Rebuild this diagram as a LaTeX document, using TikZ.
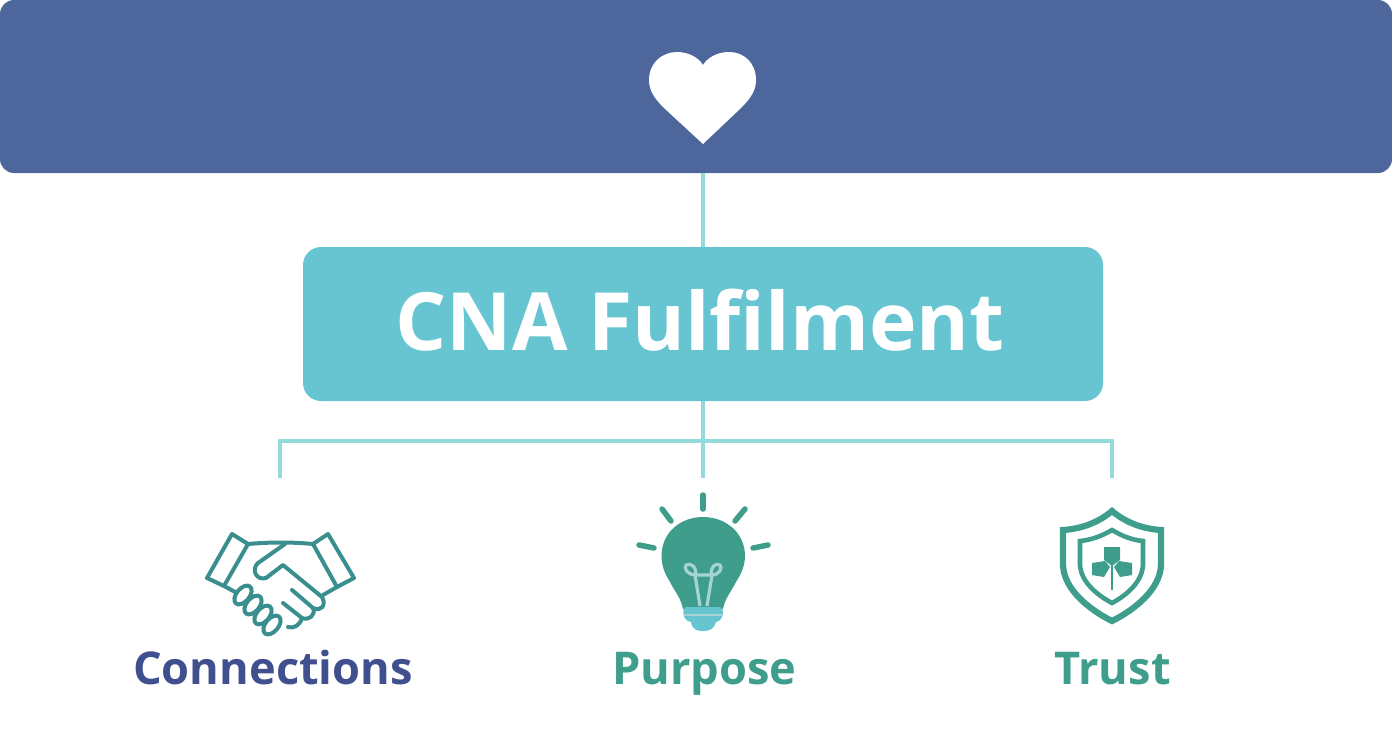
\documentclass[tikz,border=0pt]{standalone}
\usepackage{fontspec}
\setmainfont{Open Sans}
\usetikzlibrary{calc}
\definecolor{bannerblue}{HTML}{4D679C}
\definecolor{boxteal}{HTML}{67C5D2}
\definecolor{linkteal}{HTML}{94DADA}
\definecolor{icongreen}{HTML}{3F9D8C}
\definecolor{handteal}{HTML}{3A8F8E}
\definecolor{labelblue}{HTML}{40508F}
\definecolor{filament}{HTML}{A5D3D6}
\tikzset{
    link/.style={draw=linkteal, line width=3.4pt},
    caption/.style={anchor=base, font=\bfseries\fontsize{45.2}{45.2}\selectfont},
    handline/.style={draw=handteal, line width=4pt, line join=round, line cap=round},
    ray/.style={draw=icongreen, line width=5.5pt, line cap=round},
    shieldline/.style={draw=icongreen, line join=miter}
}

\begin{document}
\begin{tikzpicture}[x=1pt,y=-1pt]
    \useasboundingbox (0,0) rectangle (1392,752);
    \node[fill=bannerblue, rounded corners=14pt, minimum width=1392pt, minimum height=173pt, inner sep=0pt] at (696,86.5) (banner) {};
    \node[fill=boxteal, rounded corners=18pt, minimum width=800pt, minimum height=154pt, inner sep=0pt] at (703,324) (fulfilBox) {};
    \node[anchor=base, text=white, font=\bfseries\fontsize{80.4}{80.4}\selectfont] at (700,350) (fulfilText) {CNA Fulfilment};

    % links
    \coordinate (busMid) at (703,441);
    \coordinate (dropLeft) at (280,478);
    \coordinate (dropMid) at (703,478);
    \coordinate (dropRight) at (1112,478);
    \draw[link] (banner.south -| fulfilBox.north) -- (fulfilBox.north);
    \draw[link] (fulfilBox.south) -- (dropMid);
    \draw[link] (dropLeft) |- (busMid) -| (dropRight);

    % heart
    \fill[white] (703,144) -- (664,108) .. controls (655,99) and (649,91) .. (649,80)
        .. controls (649,63) and (662,52) .. (677,52)
        .. controls (688,52) and (698,57) .. (703,65)
        .. controls (708,57) and (718,52) .. (729,52)
        .. controls (744,52) and (756,63) .. (756,80)
        .. controls (756,91) and (750,99) .. (741,108) -- cycle;

    % handshake
    \draw[handline] (232,534) -- (248,544) -- (224,586) -- (207,578) -- cycle;
    \draw[handline] (328,534) -- (313,544) -- (337,587) -- (354,578) -- cycle;
    \draw[handline] (248,544) .. controls (270,542) and (292,542) .. (313,544);
    \draw[handline] (285,544) -- (258,563) .. controls (251,569) and (256,581) .. (266,578) -- (283,565)
        -- (322,597) .. controls (327,606) and (320,612) .. (313,608);
    \draw[handline] (323,595) -- (337,587);
    \draw[handline] (292,590) -- (313,608) .. controls (316,615) and (309,621) .. (302,618) -- (283,603);
    \draw[handline] (302,618) .. controls (300,625) and (294,629) .. (288,627);
    \draw[handline] (224,586) -- (237,593);
    \foreach \fx/\fy in {243/595,253/605,263/615,272/625}
        \draw[handline, fill=white] (\fx,\fy) ellipse [x radius=11pt, y radius=6.5pt, rotate=50];

    % bulb
    \fill[icongreen] (683,609) .. controls (681,598) and (675,592) .. (670,582)
        .. controls (665,574) and (661.5,566) .. (661.5,556)
        .. controls (661.5,533) and (680,517) .. (703,517)
        .. controls (726,517) and (745,533) .. (745,556)
        .. controls (745,566) and (741,574) .. (736,582)
        .. controls (731,592) and (725,598) .. (723,609) -- cycle;
    \foreach \ax/\ay/\bx/\by in {703/495/703/509,662/509/671/521,745/509/735/521,639/545/654/548,768/545/753/548}
        \draw[ray] (\ax,\ay) -- (\bx,\by);
    \draw[draw=filament, line width=3.2pt, line join=round] (700,606) -- (695,575)
        .. controls (688,575) and (683,568) .. (686,565) .. controls (691,562) and (698,568) .. (695,575) -- (712,575)
        .. controls (709,568) and (716,562) .. (720,565) .. controls (723,568) and (719,575) .. (712,575) -- (707,606);
    \fill[boxteal] (687,607) -- (719,607) .. controls (725,607) and (724,621) .. (716,622)
        .. controls (714,630) and (708,631) .. (703,631) .. controls (698,631) and (692,630) .. (691,622)
        .. controls (682,621) and (681,607) .. (687,607) -- cycle;
    \draw[filament, line width=1.6pt] (684,615) -- (722,615);

    % shield
    \draw[shieldline, line width=6.2pt] (1112,511) .. controls (1098,523) and (1080,529) .. (1063,530)
        -- (1063,565) .. controls (1064,590) and (1090,610) .. (1112,621)
        .. controls (1134,610) and (1160,590) .. (1161,565) -- (1161,530)
        .. controls (1144,529) and (1126,523) .. (1112,511) -- cycle;
    \draw[shieldline, line width=4.6pt] (1112,530) .. controls (1102,536) and (1091,540) .. (1080,541)
        -- (1080,565) .. controls (1081,582) and (1097,595) .. (1112,603)
        .. controls (1127,595) and (1142,582) .. (1143,565) -- (1143,541)
        .. controls (1132,540) and (1122,536) .. (1112,530) -- cycle;
    \fill[icongreen] (1104,547) -- (1120,547) -- (1120,560) -- (1112,566) -- (1104,560) -- cycle;
    \fill[icongreen] (1092,563) -- (1105,561) -- (1110,567) -- (1104,577) -- (1092,575) -- cycle;
    \fill[icongreen] (1132,563) -- (1119,561) -- (1114,567) -- (1120,577) -- (1132,575) -- cycle;
    \draw[icongreen, line width=2.6pt] (1112,565) -- (1112,590);

    % captions
    \node[caption, text=labelblue] at (273,684) (connections) {Connections};
    \node[caption, text=icongreen] at (704.5,684) (purpose) {Purpose};
    \node[caption, text=icongreen] at (1112.5,684) (trust) {Trust};
\end{tikzpicture}
\end{document}
